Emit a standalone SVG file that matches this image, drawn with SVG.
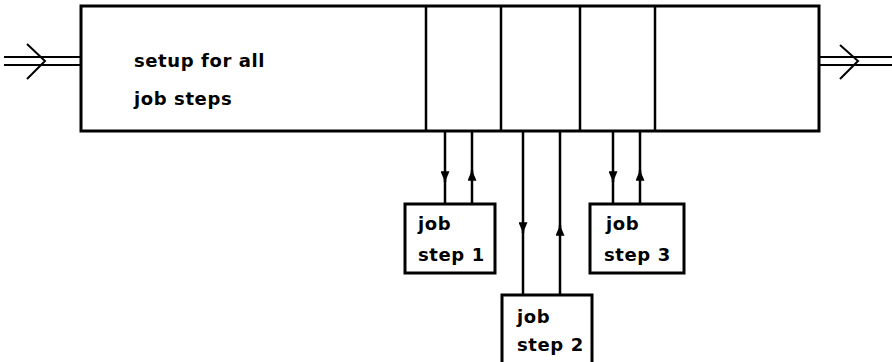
<svg xmlns="http://www.w3.org/2000/svg" width="892" height="362" viewBox="0 0 892 362">
  <style>
    .ln { stroke: #000; stroke-width: 2.5; fill: none; }
    .box { stroke: #000; stroke-width: 3; fill: #fff; }
    .thin { stroke: #000; stroke-width: 2; fill: none; }
    text { font-family: "DejaVu Sans", "Liberation Sans", sans-serif; font-weight: bold; font-size: 18px; fill: #000; letter-spacing: 0.6px; }
  </style>
  <defs>
    <marker id="ah" viewBox="0 0 12 10" refX="12" refY="5" markerWidth="12" markerHeight="9" markerUnits="userSpaceOnUse" orient="auto">
      <path d="M0,0 L12,5 L0,10 Z" fill="#000"/>
    </marker>
  </defs>

  <g id="main">
    <rect class="box" x="81" y="6" width="738" height="125"/>
    <line class="ln" x1="426" y1="6" x2="426" y2="131"/>
    <line class="ln" x1="501" y1="6" x2="501" y2="131"/>
    <line class="ln" x1="580" y1="6" x2="580" y2="131"/>
    <line class="ln" x1="655" y1="6" x2="655" y2="131"/>
    <text x="134" y="67">setup for all</text>
    <text x="134" y="105">job steps</text>
  </g>

  <g id="step1">
    <rect class="box" x="405" y="204" width="90" height="69"/>
    <text x="418" y="230">job</text>
    <text x="418" y="261">step 1</text>
  </g>
  <g id="step2">
    <rect class="box" x="502" y="295" width="90" height="70"/>
    <text x="517" y="323">job</text>
    <text x="517" y="351">step 2</text>
  </g>
  <g id="step3">
    <rect class="box" x="590" y="204" width="94" height="69"/>
    <text x="606" y="230">job</text>
    <text x="604" y="261">step 3</text>
  </g>

  <g id="connectors">
    <!-- input flow -->
    <line class="thin" x1="4" y1="57" x2="81" y2="57"/>
    <line class="thin" x1="4" y1="65" x2="81" y2="65"/>
    <polyline class="thin" points="27,44 45,61 27,79"/>
    <!-- output flow -->
    <line class="thin" x1="819" y1="57" x2="892" y2="57"/>
    <line class="thin" x1="819" y1="65" x2="892" y2="65"/>
    <polyline class="thin" points="840,45 858,61 840,79"/>
    <!-- step 1 -->
    <line class="ln" x1="445" y1="131" x2="445" y2="182" marker-end="url(#ah)"/>
    <line class="ln" x1="445" y1="178" x2="445" y2="204"/>
    <line class="ln" x1="472" y1="204" x2="472" y2="170" marker-end="url(#ah)"/>
    <line class="ln" x1="472" y1="174" x2="472" y2="131"/>
    <!-- step 2 -->
    <line class="ln" x1="523" y1="131" x2="523" y2="233" marker-end="url(#ah)"/>
    <line class="ln" x1="523" y1="229" x2="523" y2="295"/>
    <line class="ln" x1="560" y1="295" x2="560" y2="225" marker-end="url(#ah)"/>
    <line class="ln" x1="560" y1="229" x2="560" y2="131"/>
    <!-- step 3 -->
    <line class="ln" x1="613" y1="131" x2="613" y2="182" marker-end="url(#ah)"/>
    <line class="ln" x1="613" y1="178" x2="613" y2="204"/>
    <line class="ln" x1="640" y1="204" x2="640" y2="170" marker-end="url(#ah)"/>
    <line class="ln" x1="640" y1="174" x2="640" y2="131"/>
  </g>
</svg>
